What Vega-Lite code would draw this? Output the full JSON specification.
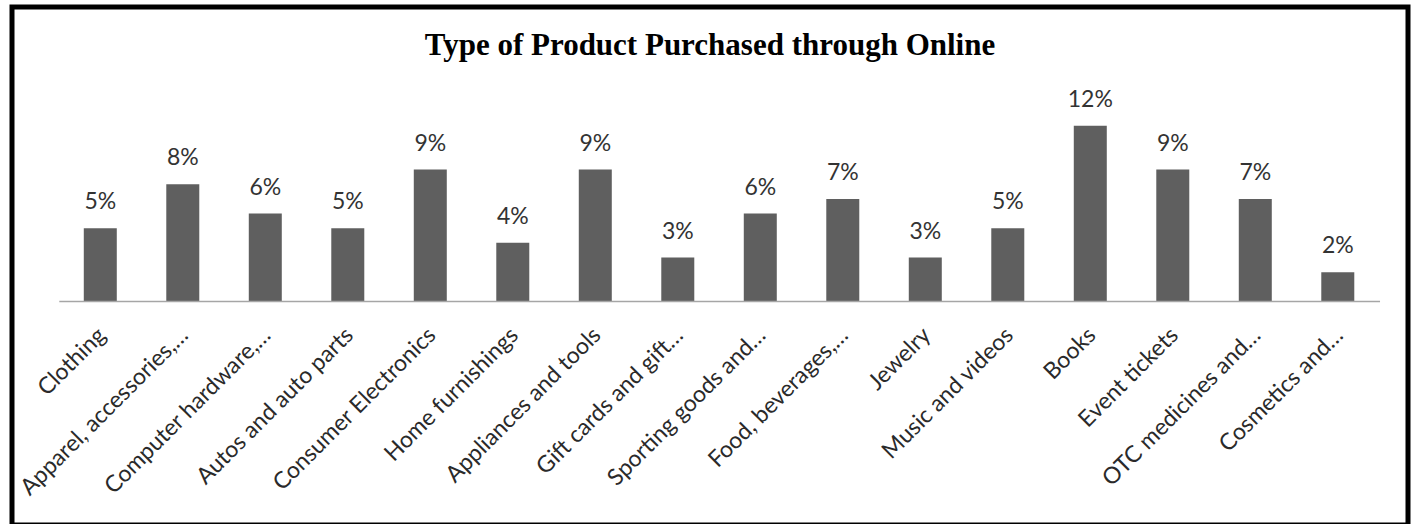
{
  "$schema": "https://vega.github.io/schema/vega-lite/v6.json",
  "autosize": {"type": "none"},
  "padding": {"left": 12, "top": 7, "right": 7, "bottom": 0},
  "width": 1396,
  "height": 518,
  "background": "white",
  "view": {"stroke": "black", "strokeWidth": 5, "fill": "white"},
  "title": {
    "text": "Type of Product Purchased through Online",
    "anchor": "middle",
    "frame": "group",
    "font": "Liberation Serif",
    "fontSize": 31,
    "fontWeight": "bold",
    "color": "black",
    "baseline": "alphabetic",
    "offset": -79
  },
  "data": {
    "values": [
      {"product": "Clothing", "share": 0.05},
      {"product": "Apparel, accessories,…", "share": 0.08},
      {"product": "Computer hardware,…", "share": 0.06},
      {"product": "Autos and auto parts", "share": 0.05},
      {"product": "Consumer Electronics", "share": 0.09},
      {"product": "Home furnishings", "share": 0.04},
      {"product": "Appliances and tools", "share": 0.09},
      {"product": "Gift cards and gift…", "share": 0.03},
      {"product": "Sporting goods and…", "share": 0.06},
      {"product": "Food, beverages,…", "share": 0.07},
      {"product": "Jewelry", "share": 0.03},
      {"product": "Music and videos", "share": 0.05},
      {"product": "Books", "share": 0.12},
      {"product": "Event tickets", "share": 0.09},
      {"product": "OTC medicines and…", "share": 0.07},
      {"product": "Cosmetics and…", "share": 0.02}
    ]
  },
  "encoding": {
    "x": {
      "field": "product",
      "type": "nominal",
      "sort": null,
      "scale": {"paddingInner": 0.6, "paddingOuter": 0.7606, "align": 0.572, "round": false},
      "axis": {
        "title": null,
        "domain": false,
        "ticks": false,
        "offset": -223.5,
        "labelAngle": -45,
        "labelAlign": "right",
        "labelBaseline": "top",
        "labelPadding": 22,
        "labelOffset": -6,
        "labelFont": "Lato",
        "labelFontSize": 23,
        "labelColor": "#2a2a2a",
        "labelLimit": 0,
        "labelOverlap": false
      }
    },
    "y": {
      "field": "share",
      "type": "quantitative",
      "scale": {"domain": [-0.1526, 0.201], "nice": false, "zero": false},
      "axis": null
    }
  },
  "layer": [
    {
      "mark": {"type": "bar", "color": "#5f5f5f"}
    },
    {
      "mark": {"type": "text", "baseline": "alphabetic", "dy": -19, "font": "Lato", "fontSize": 23, "color": "#333333"},
      "encoding": {"text": {"field": "share", "type": "quantitative", "format": ".0%"}}
    },
    {
      "data": {"values": [{"from": "Clothing", "to": "Cosmetics and…", "base": 0}]},
      "mark": {"type": "rule", "color": "#a6a6a6", "strokeWidth": 1.5},
      "encoding": {
        "x": {"datum": "Clothing", "bandPosition": -0.742},
        "x2": {"datum": "Cosmetics and…", "bandPosition": 1.78},
        "y": {"field": "base", "type": "quantitative"}
      }
    }
  ]
}
